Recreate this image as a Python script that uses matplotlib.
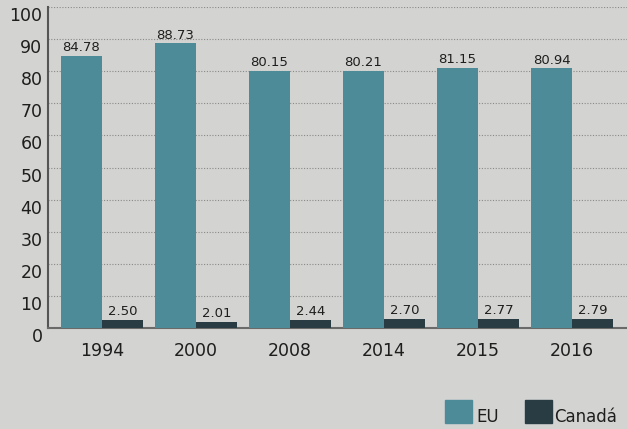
import matplotlib
matplotlib.use("Agg")
import matplotlib.pyplot as plt
import matplotlib.transforms as mtransforms
import numpy as np
from matplotlib.patches import Rectangle

years = ["1994", "2000", "2008", "2014", "2015", "2016"]
eu = [84.78, 88.73, 80.15, 80.21, 81.15, 80.94]
canada = [2.50, 2.01, 2.44, 2.70, 2.77, 2.79]
eu_labels = ["84.78", "88.73", "80.15", "80.21", "81.15", "80.94"]
ca_labels = ["2.50", "2.01", "2.44", "2.70", "2.77", "2.79"]
yticks = [0, 10, 20, 30, 40, 50, 60, 70, 80, 90, 100]

bg = "#d3d3d1"
eu_color = "#4d8b99"
ca_color = "#2a3c43"
txt = "#1e1e1e"

plt.rcParams['font.family'] = ['DejaVu Sans']

fig = plt.figure(figsize=(6.27, 4.29), dpi=100, facecolor=bg)
ax = fig.add_axes([0.0766, 0.2354, 0.9234, 0.748])
ax.set_facecolor(bg)

x = np.arange(len(years))
w = 0.436
ax.bar(x - w / 2, eu, width=w, color=eu_color, zorder=3)
ax.bar(x + w / 2, canada, width=w, color=ca_color, zorder=3)

for i in range(len(years)):
    ax.text(x[i] - w / 2, eu[i] + 0.5, eu_labels[i], ha="center", va="bottom",
            fontsize=9.5, color=txt, zorder=4)
    ax.text(x[i] + w / 2, canada[i] + 0.6, ca_labels[i], ha="center", va="bottom",
            fontsize=9.5, color=txt, zorder=4)

ax.set_xlim(-0.574, 5.585)
ax.set_ylim(0, 100)
ax.set_yticks(yticks)
ax.set_yticklabels([str(t) for t in yticks], fontsize=12.5, color=txt)
ax.set_xticks(x)
ax.set_xticklabels(years, fontsize=12.5, color=txt)
ax.tick_params(axis="both", length=0)
ax.tick_params(axis="y", pad=4)
ax.tick_params(axis="x", pad=10)

# y labels sit slightly below their gridlines in the reference
offset = mtransforms.ScaledTranslation(0, -7 / 100, fig.dpi_scale_trans)
for lab in ax.get_yticklabels():
    lab.set_transform(lab.get_transform() + offset)

for t in yticks[1:]:
    ax.axhline(t, color="#8a8a8a", linestyle=(0, (1, 1.5)), linewidth=0.8, zorder=1)

for s in ["top", "right"]:
    ax.spines[s].set_visible(False)
ax.spines["left"].set_color("#555555")
ax.spines["left"].set_linewidth(1.5)
ax.spines["bottom"].set_color("#6a6a6a")
ax.spines["bottom"].set_linewidth(1.5)

# legend
fig.patches.append(Rectangle((445 / 627, 1 - 423 / 429), 27 / 627, 23 / 429,
                             transform=fig.transFigure, color=eu_color))
fig.text(476 / 627, 1 - 417.5 / 429, "EU", fontsize=12, color=txt, va="center", ha="left")
fig.patches.append(Rectangle((525 / 627, 1 - 423 / 429), 27 / 627, 23 / 429,
                             transform=fig.transFigure, color=ca_color))
fig.text(554 / 627, 1 - 417.5 / 429, "Canadá", fontsize=12, color=txt, va="center", ha="left")

fig.savefig("out.png", dpi=100, facecolor=bg)
